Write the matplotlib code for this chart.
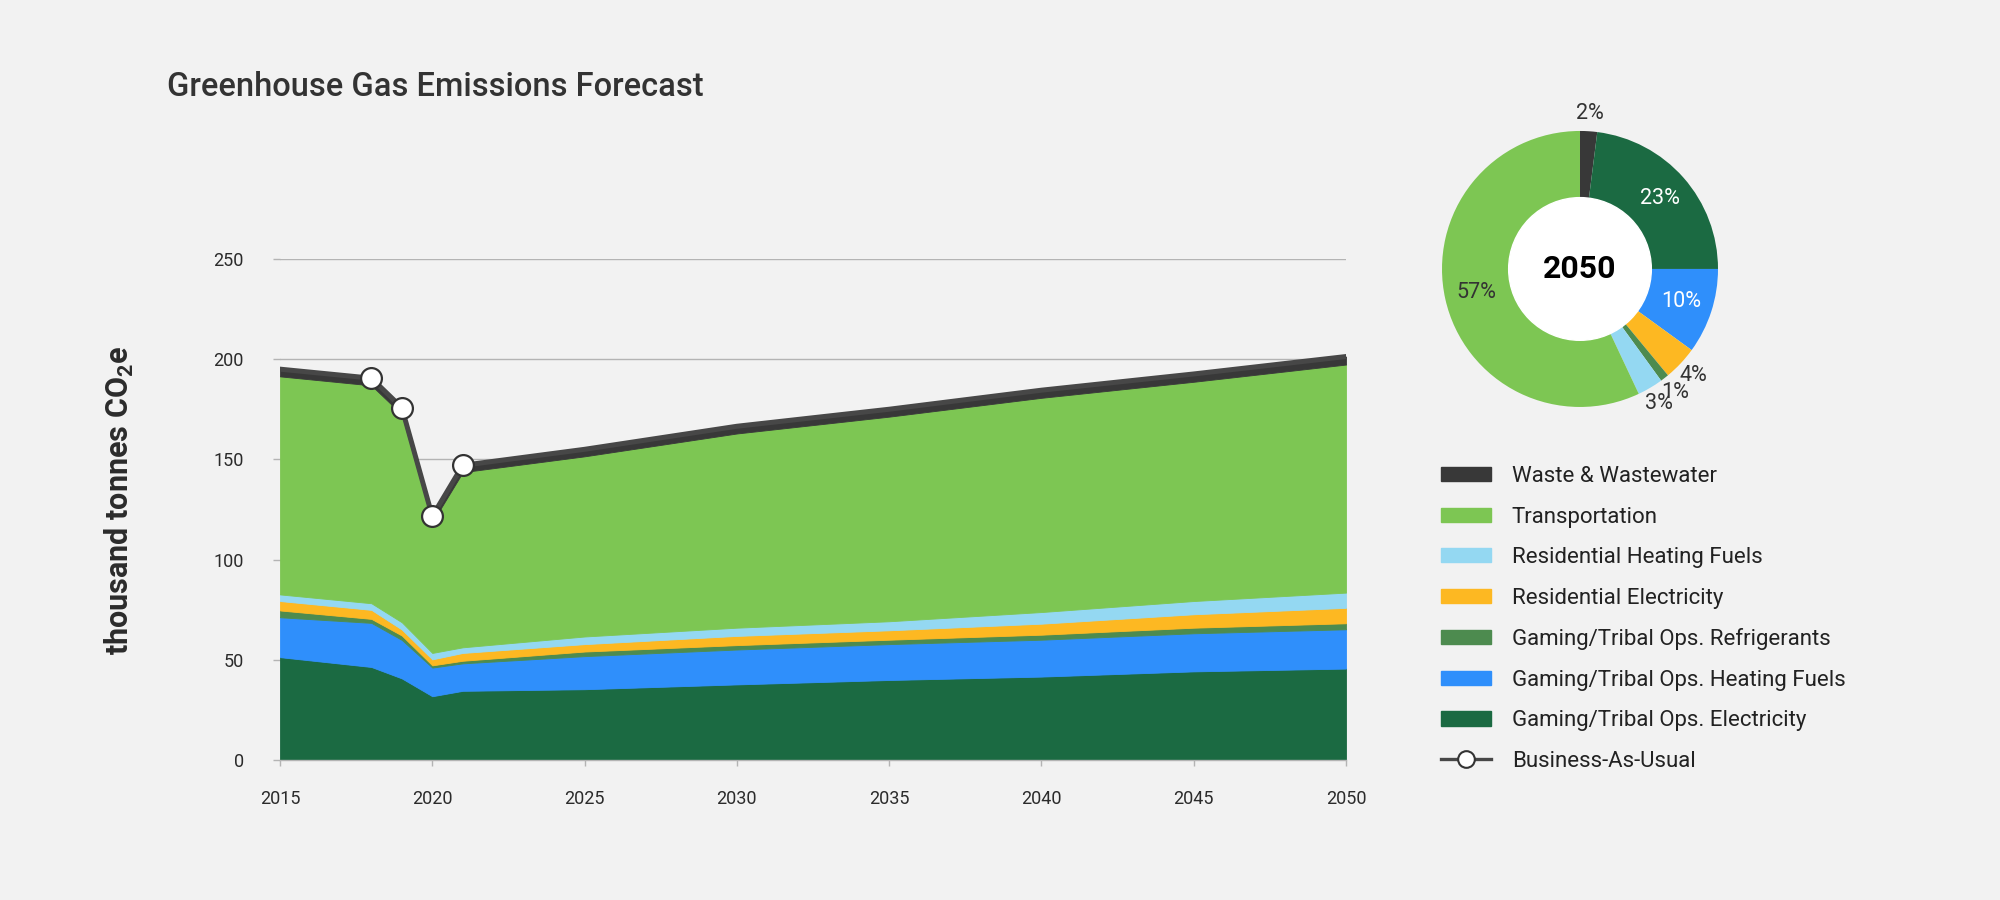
import matplotlib
matplotlib.use("Agg")
import matplotlib.pyplot as plt
from matplotlib.patches import Patch, Circle
from matplotlib.lines import Line2D
import numpy as np

plt.rcParams['font.family'] = ['Roboto', 'DejaVu Sans']
plt.rcParams['mathtext.fontset'] = 'custom'
plt.rcParams['mathtext.rm'] = 'Roboto'
plt.rcParams['mathtext.bf'] = 'Roboto:bold'

# data (thousand tonnes CO2e)
years = [2015, 2018, 2019, 2020, 2021, 2025, 2030, 2035, 2040, 2045, 2050]
elec = [51.3, 46.4, 40.7, 31.8, 34.5, 35.3, 37.7, 39.9, 41.6, 44.2, 45.6]
heat_fuels = [19.9, 22.0, 19.2, 14.3, 13.7, 16.5, 17.4, 17.9, 18.4, 19.0, 19.6]
refrigerants = [3.4, 2.0, 2.2, 1.1, 1.3, 2.3, 2.2, 2.2, 2.5, 2.8, 3.0]
res_elec = [4.7, 4.5, 3.0, 3.0, 3.9, 3.7, 4.6, 4.7, 5.5, 6.7, 7.7]
res_heat = [3.3, 3.3, 3.6, 3.2, 2.8, 3.8, 4.1, 4.5, 5.8, 6.6, 7.6]
transport = [108.8, 108.7, 103.7, 65.2, 87.4, 89.9, 96.9, 102.1, 106.9, 109.4, 113.8]
waste = [3.6, 3.6, 3.4, 3.0, 3.4, 3.5, 3.6, 3.7, 3.8, 3.9, 4.0]
bau = [195.0, 190.5, 175.8, 121.6, 147.0, 155.0, 166.5, 175.0, 184.5, 192.6, 201.3]
bau_marked = [1, 2, 3, 4]  # 2018-2021

# 2050 donut shares, clockwise from the top
pie_names = ["waste", "elec", "heat", "res_elec", "refrig", "res_heat", "transport"]
pie_shares = [2, 23, 10, 4, 1, 3, 57]

col = {
    "waste": "#383838",
    "transport": "#7dc653",
    "res_heat": "#94d8f2",
    "res_elec": "#fdb822",
    "refrig": "#4d8b4f",
    "heat": "#2f8ffb",
    "elec": "#1b6a42",
}
bg = "#f2f2f2"
grid = "#b4b4b4"
txt = "#2b2b2b"

fig = plt.figure(figsize=(20, 9), dpi=100, facecolor=bg)

ax = fig.add_axes([0.14, 0.1556, 0.533, 0.5567])
ax.set_facecolor(bg)
polys = ax.stackplot(years, elec, heat_fuels, refrigerants, res_elec, res_heat, transport, waste,
                     colors=[col["elec"], col["heat"], col["refrig"], col["res_elec"],
                             col["res_heat"], col["transport"], col["waste"]],
                     linewidth=0.6, zorder=2)
for p in polys:
    p.set_edgecolor(p.get_facecolor())
ax.plot(years, bau, color="#474747", lw=3.6, marker="o", markevery=bau_marked, ms=15,
        mfc="white", mec="#333333", mew=1.6, zorder=5, solid_joinstyle="round")

ax.set_xlim(2015, 2050)
ax.set_ylim(0, 250)
ax.set_xticks(range(2015, 2051, 5))
ax.set_yticks(range(0, 251, 50))
ax.yaxis.grid(True, color=grid, lw=1.0)
ax.set_axisbelow(True)
for s in ["top", "right", "left"]:
    ax.spines[s].set_visible(False)
ax.spines["bottom"].set_color(grid)
ax.spines["bottom"].set_linewidth(1.0)
ax.tick_params(axis="y", length=5, color=grid, width=1, pad=21, labelsize=13, labelcolor=txt)
ax.tick_params(axis="x", length=4, color=grid, width=1, pad=17.5, labelsize=13, labelcolor=txt)

fig.text(0.0835, 0.9033, "Greenhouse Gas Emissions Forecast", fontsize=23.5,
         fontweight="medium", color="#333333", ha="left", va="center")
fig.text(0.0595, 0.4438, r"thousand tonnes CO$_\mathbf{2}$e", fontsize=22, fontweight="bold",
         color=txt, rotation=90, ha="center", va="center")

# donut for 2050
pax = fig.add_axes([0.7003, 0.5018, 0.1794, 0.3987])
pax.set_facecolor(bg)
wedges, _ = pax.pie(pie_shares, colors=[col[n] for n in pie_names], startangle=90,
                    counterclock=False, radius=1, wedgeprops=dict(linewidth=0))
pax.add_patch(Circle((0, 0), 0.517, color="white", zorder=3))
pax.text(0, 0, "2050", fontsize=23, fontweight="bold", color="black",
         ha="center", va="center", zorder=4)
for w, n, s in zip(wedges, pie_names, pie_shares):
    mid = np.deg2rad((w.theta1 + w.theta2) / 2)
    r = 0.77 if s >= 10 else 1.13
    c = "white" if n in ("elec", "heat") else "#333333"
    pax.text(r * np.cos(mid), r * np.sin(mid), f"{s}%", fontsize=15.5, color=c,
             ha="center", va="center", zorder=4)
pax.set_xlim(-1.3, 1.3)
pax.set_ylim(-1.3, 1.3)
pax.set_aspect("equal")
pax.axis("off")

handles = [
    Patch(color=col["waste"]),
    Patch(color=col["transport"]),
    Patch(color=col["res_heat"]),
    Patch(color=col["res_elec"]),
    Patch(color=col["refrig"]),
    Patch(color=col["heat"]),
    Patch(color=col["elec"]),
    Line2D([], [], color="#474747", lw=2.4, marker="o", ms=12, mfc="white", mec="#333333", mew=1.5),
]
labels = ["Waste & Wastewater", "Transportation", "Residential Heating Fuels",
          "Residential Electricity", "Gaming/Tribal Ops. Refrigerants",
          "Gaming/Tribal Ops. Heating Fuels", "Gaming/Tribal Ops. Electricity",
          "Business-As-Usual"]
leg = fig.legend(handles, labels, loc="upper left", bbox_to_anchor=(0.7204, 1 - 466 / 900),
                 frameon=False, fontsize=16, handlelength=2.25, handleheight=0.6,
                 handletextpad=0.95, labelspacing=0.88, borderpad=0, borderaxespad=0)
for t in leg.get_texts():
    t.set_color("#222222")

fig.savefig("out.png", dpi=100, facecolor=bg)
